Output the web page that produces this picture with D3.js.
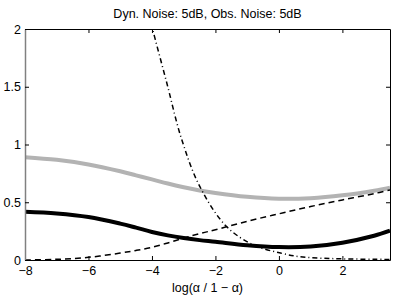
<!DOCTYPE html>
<html>
<head>
<meta charset="utf-8">
<script src="https://cdn.jsdelivr.net/npm/d3@7"></script>
<style>
  body { margin: 0; background: #fff; }
  svg { font-family: "Liberation Sans", Arial, sans-serif; }
</style>
</head>
<body>
<div id="chart"></div>
<script>
// values
const xGrid = [-8, -7, -6, -5, -4.5, -4, -3.5, -3, -2.5, -2, -1, 0, 1, 2, 3, 3.5];
const greyVals = [0.89, 0.867, 0.827, 0.768, 0.733, 0.698, 0.662, 0.63, 0.602, 0.58, 0.547, 0.53, 0.535, 0.56, 0.60, 0.626];
const blackVals = [0.418, 0.403, 0.372, 0.315, 0.28, 0.243, 0.213, 0.19, 0.172, 0.158, 0.128, 0.112, 0.117, 0.15, 0.21, 0.254];
const dashVals = [0.0, 0.006, 0.023, 0.06, 0.083, 0.11, 0.148, 0.19, 0.228, 0.262, 0.335, 0.40, 0.463, 0.52, 0.575, 0.606];

const dotX = [-4.2, -3.98, -3.53, -3.07, -2.49, -1.65, -0.8, 0.05, 0.67, 1.3, 2, 3, 3.5];
const dotVals = [2.25, 2.0, 1.53, 1.05, 0.635, 0.29, 0.13, 0.06, 0.028, 0.016, 0.01, 0.006, 0.005];

const xTicks = [-8, -6, -4, -2, 0, 2];
const yTicks = [0, 0.5, 1, 1.5, 2];
const title = "Dyn. Noise: 5dB, Obs. Noise: 5dB";
const xLabel = "log(\u03B1 / 1 \u2212 \u03B1)";

const w = 396, h = 299;
const margin = {top: 29, right: 6, bottom: 39, left: 25};

let svg = d3.select("#chart").append("svg")
    .attr("width", w)
    .attr("height", h);

const x = d3.scaleLinear().domain([-8, 3.5]).range([margin.left, w - margin.right]);
const y = d3.scaleLinear().domain([0, 2]).range([h - margin.bottom, margin.top]);

svg.append("clipPath").attr("id", "clip")
    .append("rect")
    .attr("x", margin.left).attr("y", margin.top)
    .attr("width", x.range()[1] - margin.left)
    .attr("height", y(0) - margin.top);

const minus = s => String(s).replace("-", "\u2212");

//curves
const line = d3.line()
    .x(d => x(d[0]))
    .y(d => y(d[1]))
    .curve(d3.curveCatmullRom.alpha(0.5));

const series = [
    {xs: xGrid, ys: greyVals, color: "#b3b3b3", width: 4, dash: null},
    {xs: xGrid, ys: blackVals, color: "#000", width: 4, dash: null},
    {xs: xGrid, ys: dashVals, color: "#000", width: 1.5, dash: "6,4"},
    {xs: dotX, ys: dotVals, color: "#000", width: 1.5, dash: "5,3,1,3"}
];

let curves = svg.append("g").attr("clip-path", "url(#clip)");
series.forEach(s => {
    curves.append("path")
        .datum(s.xs.map((v, i) => [v, s.ys[i]]))
        .attr("fill", "none")
        .attr("stroke", s.color)
        .attr("stroke-width", s.width)
        .attr("stroke-dasharray", s.dash)
        .attr("d", line);
});

//axes (matlab style box, inward ticks)
const tickLen = 4;
svg.append("g")
    .attr("transform", `translate(0,${y(0)})`)
    .call(d3.axisBottom(x).tickValues(xTicks).tickSizeInner(-tickLen).tickSizeOuter(0).tickPadding(6).tickFormat(minus))
    .call(g => g.select(".domain").attr("stroke", "#000"));

svg.append("g")
    .attr("transform", `translate(0,${margin.top})`)
    .call(d3.axisTop(x).tickValues(xTicks).tickSizeInner(-tickLen).tickSizeOuter(0).tickFormat(""));

svg.append("g")
    .attr("transform", `translate(${margin.left},0)`)
    .call(d3.axisLeft(y).tickValues(yTicks).tickSizeInner(-tickLen).tickSizeOuter(0).tickPadding(4).tickFormat(d3.format("")))
    .call(g => g.select(".domain").attr("stroke", "#808080").attr("stroke-width", 1.5));

svg.append("g")
    .attr("transform", `translate(${x.range()[1]},0)`)
    .call(d3.axisRight(y).tickValues(yTicks).tickSizeInner(-tickLen).tickSizeOuter(0).tickFormat(""));

svg.selectAll(".tick text")
    .attr("font-size", 12.5)
    .attr("font-family", "Liberation Sans, Arial, sans-serif")
    .attr("fill", "#000");

svg.append("text")
    .attr("x", (margin.left + x.range()[1]) / 2)
    .attr("y", 18)
    .attr("text-anchor", "middle")
    .attr("font-size", 12.5)
    .text(title);

svg.append("text")
    .attr("x", (margin.left + x.range()[1]) / 2)
    .attr("y", 292)
    .attr("text-anchor", "middle")
    .attr("font-size", 12.5)
    .text(xLabel);
</script>
</body>
</html>
